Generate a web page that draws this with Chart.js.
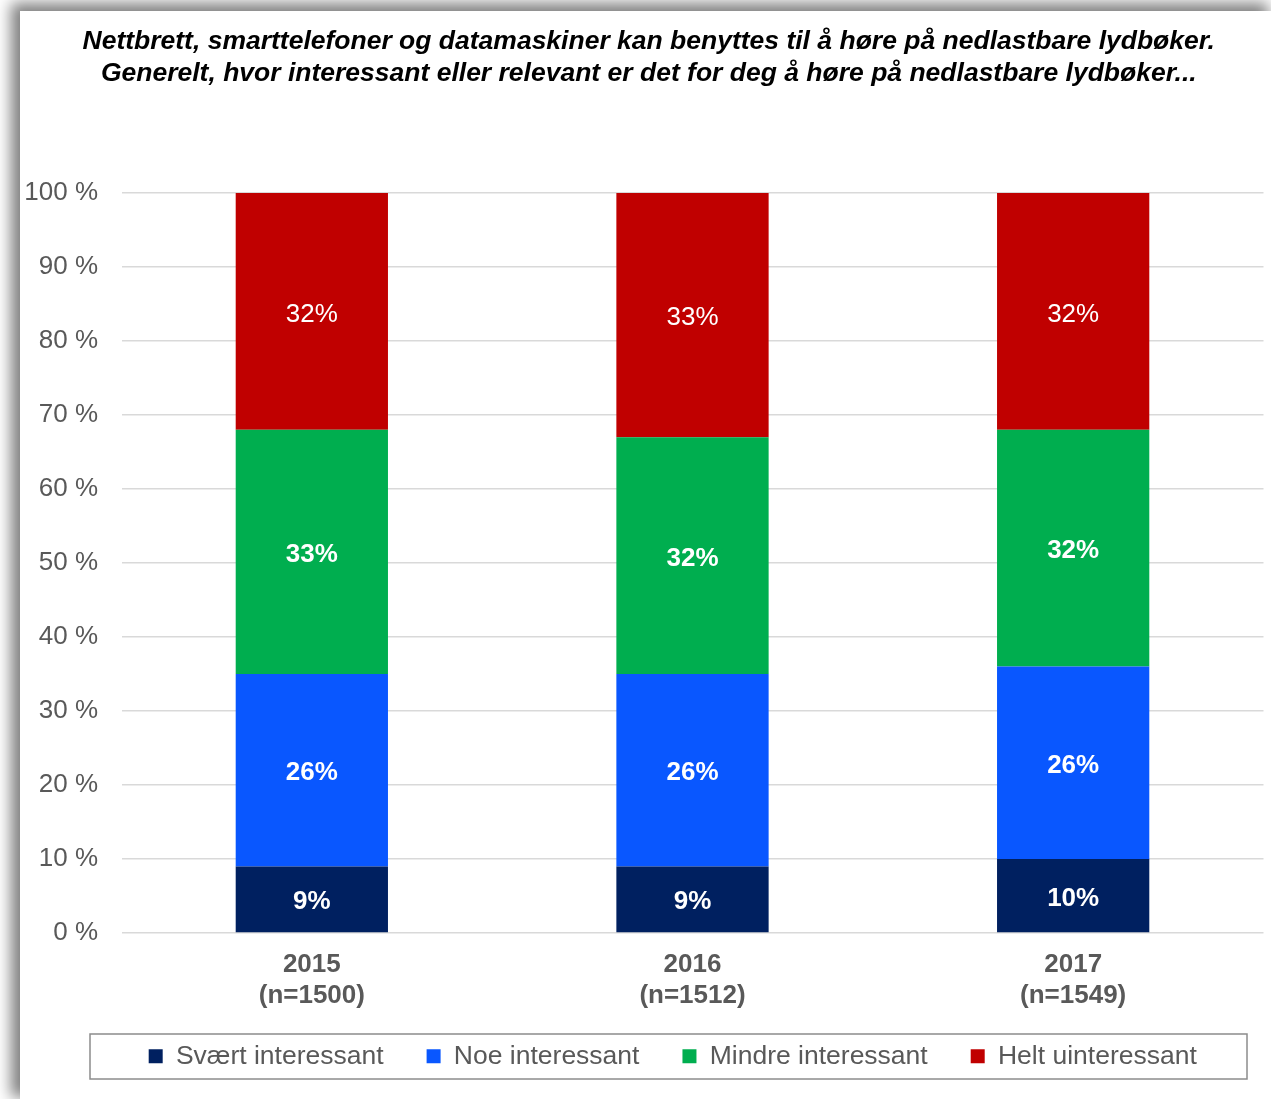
<!DOCTYPE html>
<html>
<head>
<meta charset="utf-8">
<script src="https://cdn.jsdelivr.net/npm/chart.js@4.4.1/dist/chart.umd.min.js"></script>
<style>
  html, body { margin: 0; padding: 0; background: #fff; overflow: hidden; }
  #panel {
    position: absolute; left: 20px; top: 11px; width: 1251px; height: 1088px;
    background: #fff;
    box-shadow: -6px -5px 14px 3px rgba(0,0,0,0.5);
  }
  #chart { display: block; }
</style>
</head>
<body>
<div id="panel"><canvas id="chart" width="1251" height="1088"></canvas></div>
<script>
// data
const categories = [['2015', '(n=1500)'], ['2016', '(n=1512)'], ['2017', '(n=1549)']];
const seriesNames = ['Svært interessant', 'Noe interessant', 'Mindre interessant', 'Helt uinteressant'];
const svaert = [9, 9, 10];
const noe = [26, 26, 26];
const mindre = [33, 32, 32];
const helt = [32, 33, 32];
const yTicks = [0, 10, 20, 30, 40, 50, 60, 70, 80, 90, 100];
const titleLines = [
  'Nettbrett, smarttelefoner og datamaskiner kan benyttes til å høre på nedlastbare lydbøker.',
  'Generelt, hvor interessant eller relevant er det for deg å høre på nedlastbare lydbøker...'
];

const colors = ['#002060', '#0957ff', '#00ae4f', '#c00000'];
const FONT = 'Arial, "Liberation Sans", sans-serif';
const grey = '#595959';

// value labels inside the segments
const barLabels = {
  id: 'barLabels',
  afterDatasetsDraw(chart) {
    const ctx = chart.ctx;
    ctx.save();
    ctx.fillStyle = '#fff';
    ctx.textAlign = 'center';
    ctx.textBaseline = 'middle';
    chart.data.datasets.forEach((ds, di) => {
      const meta = chart.getDatasetMeta(di);
      ctx.font = (di === 3 ? '' : 'bold ') + '26px ' + FONT;
      meta.data.forEach((bar, i) => {
        ctx.fillText(ds.data[i] + '%', bar.x, (bar.y + bar.base) / 2 + 3);
      });
    });
    ctx.restore();
  }
};

// nudge the title and legend, draw the legend frame
const legendFrame = {
  id: 'legendFrame',
  afterLayout(chart) {
    const lg = chart.legend;
    lg.left += 31; lg.right += 31;
    lg.top -= 27; lg.bottom -= 27;
    const t = chart.titleBlock;
    if (t) { t.left += 7; t.right += 7; }
  },
  afterDraw(chart) {
    const ca = chart.chartArea, ctx = chart.ctx;
    ctx.save();
    ctx.strokeStyle = '#8c8c8c';
    ctx.lineWidth = 1.5;
    ctx.strokeRect(ca.left - 31.5, ca.bottom + 101, (ca.right - 16.5) - (ca.left - 31.5), 45);
    ctx.restore();
  }
};

const datasets = [svaert, noe, mindre, helt].map((vals, i) => ({
  label: seriesNames[i],
  data: vals,
  backgroundColor: colors[i],
  borderWidth: 0,
  barPercentage: 0.4,
  categoryPercentage: 1.0
}));

new Chart(document.getElementById('chart'), {
  type: 'bar',
  data: { labels: categories, datasets: datasets },
  plugins: [barLabels, legendFrame],
  options: {
    responsive: false,
    animation: false,
    layout: { padding: { left: 0, right: 7.5, top: 0, bottom: -7.5 } },
    plugins: {
      title: {
        display: true,
        text: titleLines,
        color: '#000',
        font: { family: FONT, size: 26.5, weight: 'bold', style: 'italic', lineHeight: 32 / 26.5 },
        padding: { top: 15, bottom: 103 }
      },
      legend: {
        position: 'bottom',
        labels: {
          color: grey,
          font: { family: FONT, size: 26.5 },
          boxWidth: 14,
          boxHeight: 14,
          padding: 43
        }
      },
      tooltip: { enabled: false }
    },
    scales: {
      x: {
        stacked: true,
        grid: { display: false, drawTicks: false },
        border: { display: false },
        ticks: {
          color: grey,
          font: { family: FONT, size: 26, weight: 'bold', lineHeight: 31 / 26 },
          padding: 16
        }
      },
      y: {
        stacked: true,
        min: 0,
        max: 100,
        afterBuildTicks(scale) { scale.ticks = yTicks.map(v => ({ value: v })); },
        grid: { color: '#d9d9d9', lineWidth: 1.5, drawTicks: false },
        border: { display: false },
        ticks: {
          color: grey,
          font: { family: FONT, size: 26 },
          padding: 23.5,
          callback: v => v + ' %'
        },
        afterFit(scale) { scale.width = 101.5; }
      }
    }
  }
});
</script>
</body>
</html>
